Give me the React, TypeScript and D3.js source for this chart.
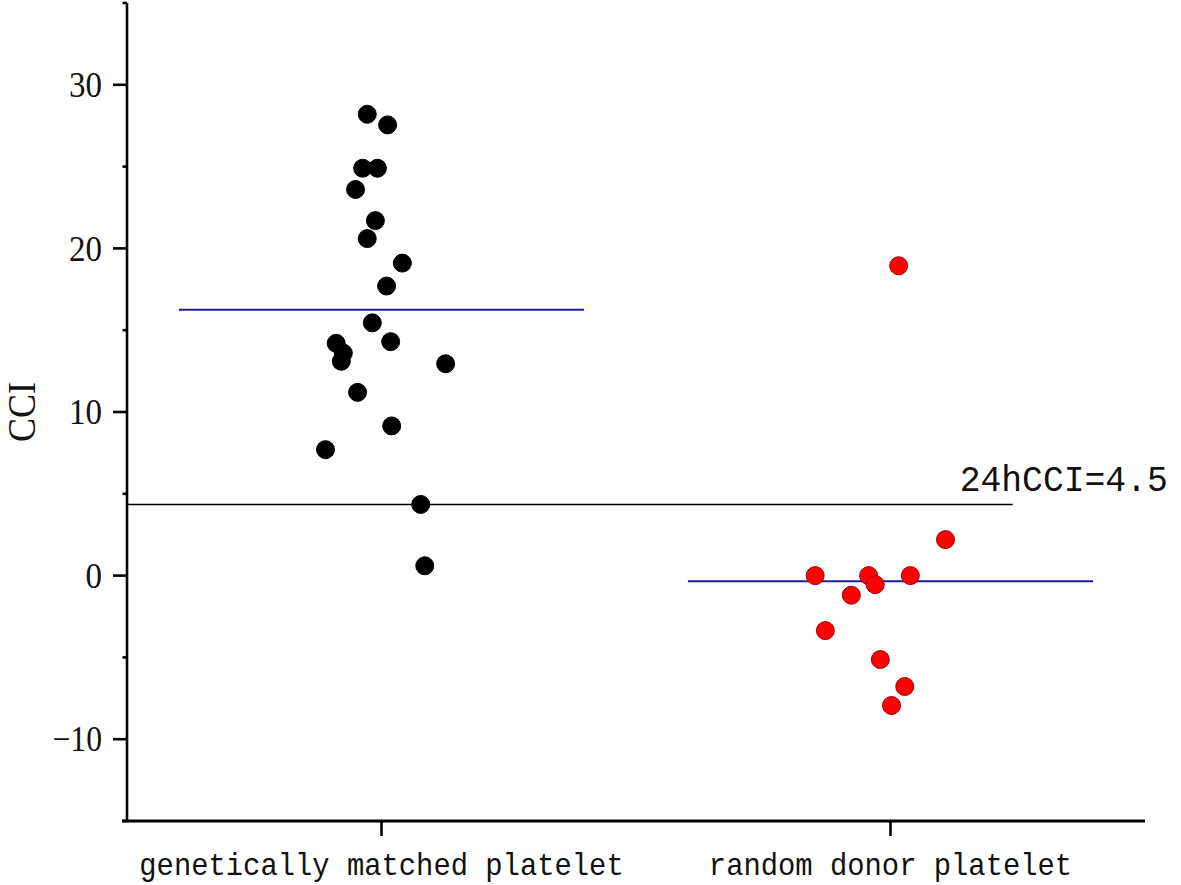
import React from "react";
import * as d3 from "d3";

const categories = ["genetically matched platelet", "random donor platelet"];
const matchedCCI = [28.2, 27.55, 24.9, 24.9, 23.6, 21.7, 20.6, 19.1, 17.7, 15.45, 14.2, 14.3, 13.6, 13.1, 12.95, 11.2, 9.15, 7.7, 4.35, 0.6];
const matchedJitter = [-0.028, 0.012, -0.037, -0.008, -0.051, -0.012, -0.028, 0.041, 0.010, -0.018, -0.089, 0.018, -0.075, -0.079, 0.126, -0.047, 0.020, -0.110, 0.077, 0.085];
const randomCCI = [0, 0, -0.55, 0, 2.2, -1.2, -3.36, -5.13, -6.78, -7.94, 18.94];
const randomJitter = [-0.148, -0.043, -0.030, 0.039, 0.108, -0.077, -0.128, -0.020, 0.028, 0.002, 0.016];
const yMajorTicks = [-10, 0, 10, 20, 30];
const yMinorTicks = [-15, -5, 5, 15, 25, 35];
const thresholdValue = 4.35;
const thresholdLabel = "24hCCI=4.5";
const yLabel = "CCI";

const W = 1181;
const H = 885;
const left = 127;
const right = 1145;
const top = 3;
const bottom = 821;

export default function App() {
  const x = d3.scalePoint<string>().domain(categories).range([left, right]).padding(0.5);
  const step = x.step();
  const y = d3.scaleLinear().domain([-15, 35]).range([bottom, top]);

  const groups = [
    { cat: categories[0], values: matchedCCI, jitter: matchedJitter, fill: "#000000", stroke: "#000000" },
    { cat: categories[1], values: randomCCI, jitter: randomJitter, fill: "#ff0000", stroke: "#a00000" },
  ];

  const serif = "'Liberation Serif', 'DejaVu Serif', serif";
  const mono = "'Liberation Mono', 'DejaVu Sans Mono', monospace";

  return (
    <svg width={W} height={H} style={{ position: "absolute", left: 0, top: 0, background: "#fff" }}>
      <rect width={W} height={H} fill="#fff" />
      {/* threshold line */}
      <line
        x1={left}
        x2={(x(categories[1]) as number) + 0.24 * step}
        y1={y(thresholdValue)}
        y2={y(thresholdValue)}
        stroke="#000"
        strokeWidth={1.6}
      />
      <text
        x={(x(categories[1]) as number) + 0.136 * step}
        y={y(thresholdValue) - 13}
        fontFamily={mono}
        fontSize={36}
        textLength={208}
        lengthAdjust="spacingAndGlyphs"
        fill="#111"
      >
        {thresholdLabel}
      </text>
      {/* mean lines */}
      {groups.map((g) => {
        const m = d3.mean(g.values) as number;
        const cx = x(g.cat) as number;
        return (
          <line
            key={"m" + g.cat}
            x1={cx - 0.398 * step}
            x2={cx + 0.398 * step}
            y1={y(m)}
            y2={y(m)}
            stroke="#1c1c9c"
            strokeWidth={2}
          />
        );
      })}
      {/* points */}
      {groups.map((g) =>
        g.values.map((v, i) => (
          <circle
            key={g.cat + i}
            cx={(x(g.cat) as number) + g.jitter[i] * step}
            cy={y(v)}
            r={9}
            fill={g.fill}
            stroke={g.stroke}
            strokeWidth={1}
          />
        ))
      )}
      {/* y axis */}
      <line x1={left} x2={left} y1={top} y2={bottom} stroke="#000" strokeWidth={2.6} />
      {yMajorTicks.map((t) => {
        const label = t < 0 ? "\u2212" + Math.abs(t) : String(t);
        return (
          <g key={"t" + t}>
            <line x1={left - 14} x2={left} y1={y(t)} y2={y(t)} stroke="#000" strokeWidth={2.6} />
            <text
              x={left - 25}
              y={y(t)}
              dy="0.34em"
              textAnchor="end"
              fontFamily={serif}
              fontSize={36}
              textLength={label.length * 16.5}
              lengthAdjust="spacingAndGlyphs"
              fill="#111"
            >
              {label}
            </text>
          </g>
        );
      })}
      {yMinorTicks.map((t) => (
        <line key={"mt" + t} x1={left - 4.5} x2={left} y1={y(t)} y2={y(t)} stroke="#000" strokeWidth={2.6} />
      ))}
      <text
        transform={`translate(${35},${y(10)}) rotate(-90)`}
        textAnchor="middle"
        fontFamily={serif}
        fontSize={40}
        textLength={60}
        lengthAdjust="spacingAndGlyphs"
        fill="#111"
      >
        {yLabel}
      </text>
      {/* x axis */}
      <line x1={left - 5} x2={right} y1={bottom} y2={bottom} stroke="#000" strokeWidth={3} />
      {categories.map((c) => (
        <g key={"x" + c}>
          <line x1={x(c) as number} x2={x(c) as number} y1={bottom} y2={bottom + 15} stroke="#000" strokeWidth={2.6} />
          <text
            x={x(c) as number}
            y={875}
            textAnchor="middle"
            fontFamily={mono}
            fontSize={32}
            textLength={c.length * 17.3}
            lengthAdjust="spacingAndGlyphs"
            fill="#111"
          >
            {c}
          </text>
        </g>
      ))}
    </svg>
  );
}
